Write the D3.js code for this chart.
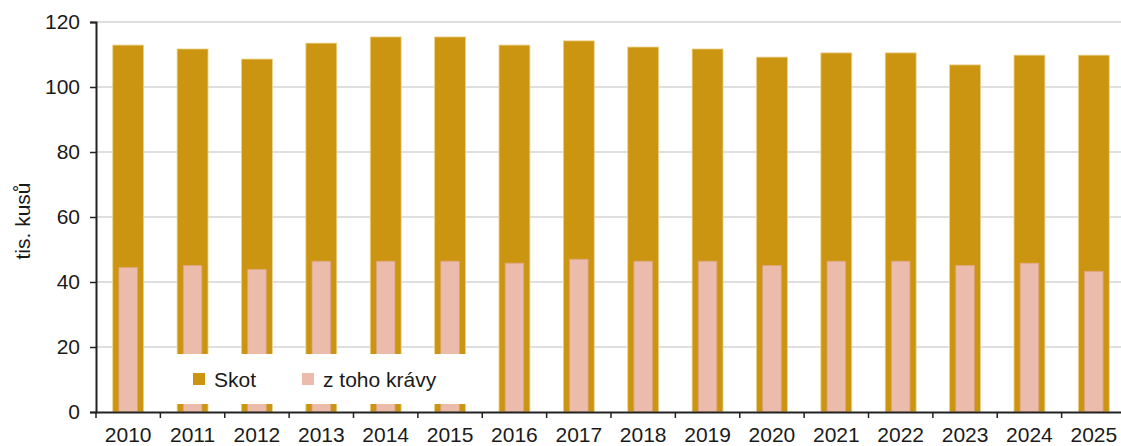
<!DOCTYPE html>
<html>
<head>
<meta charset="utf-8">
<script src="https://cdn.jsdelivr.net/npm/d3@7"></script>
<style>
  body { margin: 0; background: #fff; }
  svg { display: block; font-family: Arial, "Liberation Sans", sans-serif; }
</style>
</head>
<body>
<div id="chart"></div>
<script>
// data (tis. kusů)
const years = ['2010', '2011', '2012', '2013', '2014', '2015', '2016', '2017',
	'2018', '2019', '2020', '2021', '2022', '2023', '2024', '2025'];
const skot = [112.9, 111.7, 108.6, 113.5, 115.4, 115.4, 112.9, 114.2,
	112.3, 111.7, 109.2, 110.5, 110.5, 106.8, 109.8, 109.8];
const kravy = [44.5, 45.1, 43.9, 46.4, 46.4, 46.4, 45.8, 47.0,
	46.4, 46.4, 45.1, 46.4, 46.4, 45.1, 45.8, 43.3];
const yTicks = [0, 20, 40, 60, 80, 100, 120];
const legendNames = ['Skot', 'z toho krávy'];

const W = 1121, H = 446;
const margin = { top: 22, left: 96, bottom: 34 };
const plotRight = 1126; // the chart runs a little past the picture edge

const gold = '#cc9511', pink = '#ebbcab';
const fontSize = 21;

const svg = d3.select('#chart').append('svg')
	.attr('width', W)
	.attr('height', H);

const x = d3.scaleBand()
	.domain(years)
	.range([margin.left, plotRight])
	.paddingInner(0.52)
	.paddingOuter(0.26);

const y = d3.scaleLinear()
	.domain([0, 120])
	.range([H - margin.bottom, margin.top]);

// gridlines
svg.append('g')
	.selectAll('line')
	.data(yTicks.filter(d => d > 0))
	.join('line')
	.attr('x1', margin.left)
	.attr('x2', plotRight)
	.attr('y1', d => y(d))
	.attr('y2', d => y(d))
	.attr('stroke', '#d4d4d4')
	.attr('stroke-width', 1.5);

// Skot bars
svg.append('g')
	.selectAll('rect')
	.data(years)
	.join('rect')
	.attr('x', d => x(d))
	.attr('y', (d, i) => y(skot[i]))
	.attr('width', x.bandwidth())
	.attr('height', (d, i) => y(0) - y(skot[i]))
	.attr('fill', gold)
	.attr('stroke', '#ecd28e')
	.attr('stroke-width', 0.8);

// cows, narrower, inside
const inner = x.bandwidth() * 0.6;
svg.append('g')
	.selectAll('rect')
	.data(years)
	.join('rect')
	.attr('x', d => x(d) + (x.bandwidth() - inner) / 2)
	.attr('y', (d, i) => y(kravy[i]))
	.attr('width', inner)
	.attr('height', (d, i) => y(0) - y(kravy[i]))
	.attr('fill', pink)
	.attr('stroke', '#dca47e')
	.attr('stroke-width', 0.8);

// legend box sits over the bars
const legend = svg.append('g');
legend.append('rect')
	.attr('x', 150)
	.attr('y', 354)
	.attr('width', 340)
	.attr('height', 50)
	.attr('fill', '#fff');

const legendX = [193, 302];
[gold, pink].forEach((c, i) => {
	legend.append('rect')
		.attr('x', legendX[i])
		.attr('y', 373)
		.attr('width', 12)
		.attr('height', 12)
		.attr('fill', c);
	legend.append('text')
		.attr('x', legendX[i] + 21)
		.attr('y', 387)
		.attr('font-size', fontSize)
		.attr('fill', '#1a1a1a')
		.text(legendNames[i]);
});

// y axis
const yAxis = svg.append('g')
	.attr('transform', 'translate(' + margin.left + ',0)')
	.call(d3.axisLeft(y).tickValues(yTicks).tickSize(6).tickPadding(10));
yAxis.selectAll('text')
	.attr('font-size', fontSize)
	.attr('fill', '#1a1a1a');

// x axis, ticks between the categories
const xAxis = svg.append('g')
	.attr('transform', 'translate(0,' + y(0) + ')')
	.call(d3.axisBottom(x).tickSize(0).tickPadding(15));
xAxis.selectAll('text')
	.attr('font-size', fontSize)
	.attr('fill', '#1a1a1a');
xAxis.selectAll('.sep')
	.data(years.map((d, i) => margin.left + i * x.step()))
	.join('line')
	.attr('class', 'sep')
	.attr('x1', d => d)
	.attr('x2', d => d)
	.attr('y1', 0)
	.attr('y2', 6)
	.attr('stroke', '#222')
	.attr('stroke-width', 1.5);

[yAxis, xAxis].forEach(a => {
	a.select('.domain').attr('stroke', '#222').attr('stroke-width', 2);
	a.selectAll('.tick line').attr('stroke', '#222').attr('stroke-width', 1.5);
});

// axis title
svg.append('text')
	.attr('transform', 'translate(30,221) rotate(-90)')
	.attr('text-anchor', 'middle')
	.attr('font-size', fontSize)
	.attr('fill', '#1a1a1a')
	.text('tis. kusů');
</script>
</body>
</html>
